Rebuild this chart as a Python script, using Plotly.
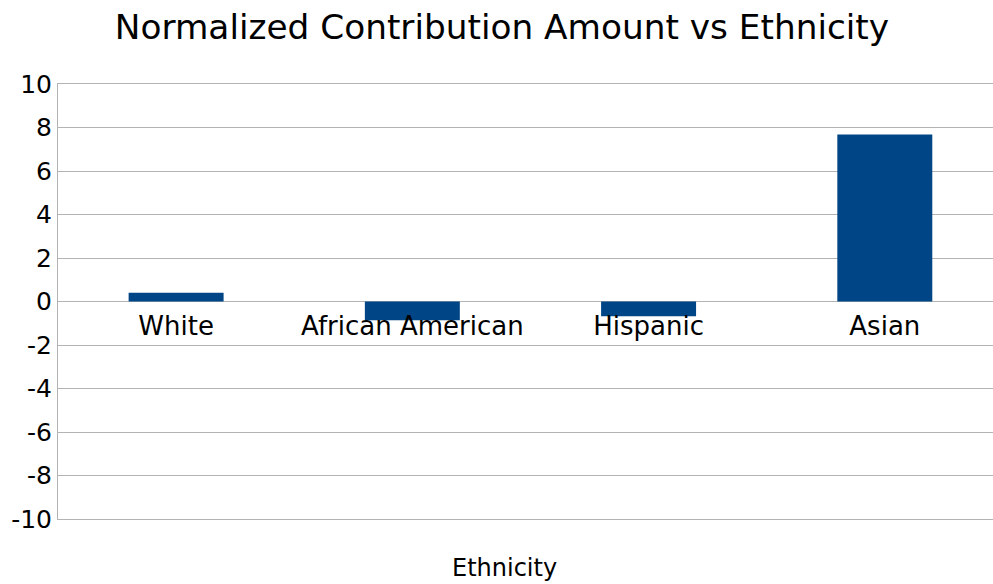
import plotly.graph_objects as go

categories = ["White", "African American", "Hispanic", "Asian"]
values = [0.40, -0.86, -0.68, 7.68]
y_ticks = [10, 8, 6, 4, 2, 0, -2, -4, -6, -8, -10]

FONT = "DejaVu Sans"
GRID = "#b3b3b3"
Y_MIN, Y_MAX = -10, 10

fig = go.Figure()
fig.add_trace(
    go.Bar(
        x=categories,
        y=values,
        marker=dict(color="#004586", line=dict(width=0)),
        width=0.402,
    )
)
# empty companion trace that carries the frame axis (top and bottom edge lines)
fig.add_trace(
    go.Scatter(
        x=categories, y=[None] * len(categories),
        xaxis="x2", yaxis="y", mode="markers",
        hoverinfo="skip", showlegend=False,
    )
)

fig.update_layout(
    width=993,
    height=584,
    margin=dict(l=58, r=0, t=84, b=65),
    paper_bgcolor="white",
    plot_bgcolor="white",
    showlegend=False,
    title=dict(
        text="Normalized Contribution Amount vs Ethnicity",
        x=0.5055,
        xanchor="center",
        y=0.953,
        yanchor="middle",
        font=dict(family=FONT, size=34.3, color="black"),
    ),
    font=dict(family=FONT, color="black"),
    xaxis=dict(
        anchor="free",
        position=0.5,
        showline=False,
        showgrid=False,
        zeroline=False,
        ticks="",
        ticklabelstandoff=6,
        tickfont=dict(family=FONT, size=26, color="black"),
        range=[-0.5, 3.458],
    ),
    xaxis2=dict(
        overlaying="x",
        anchor="y",
        side="bottom",
        matches="x",
        showline=True,
        mirror=True,
        linecolor=GRID,
        linewidth=1,
        showgrid=False,
        zeroline=False,
        showticklabels=False,
        ticks="",
    ),
    yaxis=dict(
        range=[Y_MIN, Y_MAX],
        tickvals=y_ticks,
        ticktext=[str(v) for v in y_ticks],
        showgrid=True,
        gridcolor=GRID,
        gridwidth=1,
        zeroline=True,
        zerolinecolor=GRID,
        zerolinewidth=1,
        showline=True,
        linecolor=GRID,
        linewidth=1,
        ticks="",
        tickfont=dict(family=FONT, size=25, color="black"),
    ),
    annotations=[
        dict(
            text="Ethnicity",
            xref="paper",
            yref="paper",
            x=0.478,
            y=-0.112,
            xanchor="center",
            yanchor="middle",
            showarrow=False,
            font=dict(family=FONT, size=24, color="black"),
        )
    ],
)

fig.write_html("out.html")
